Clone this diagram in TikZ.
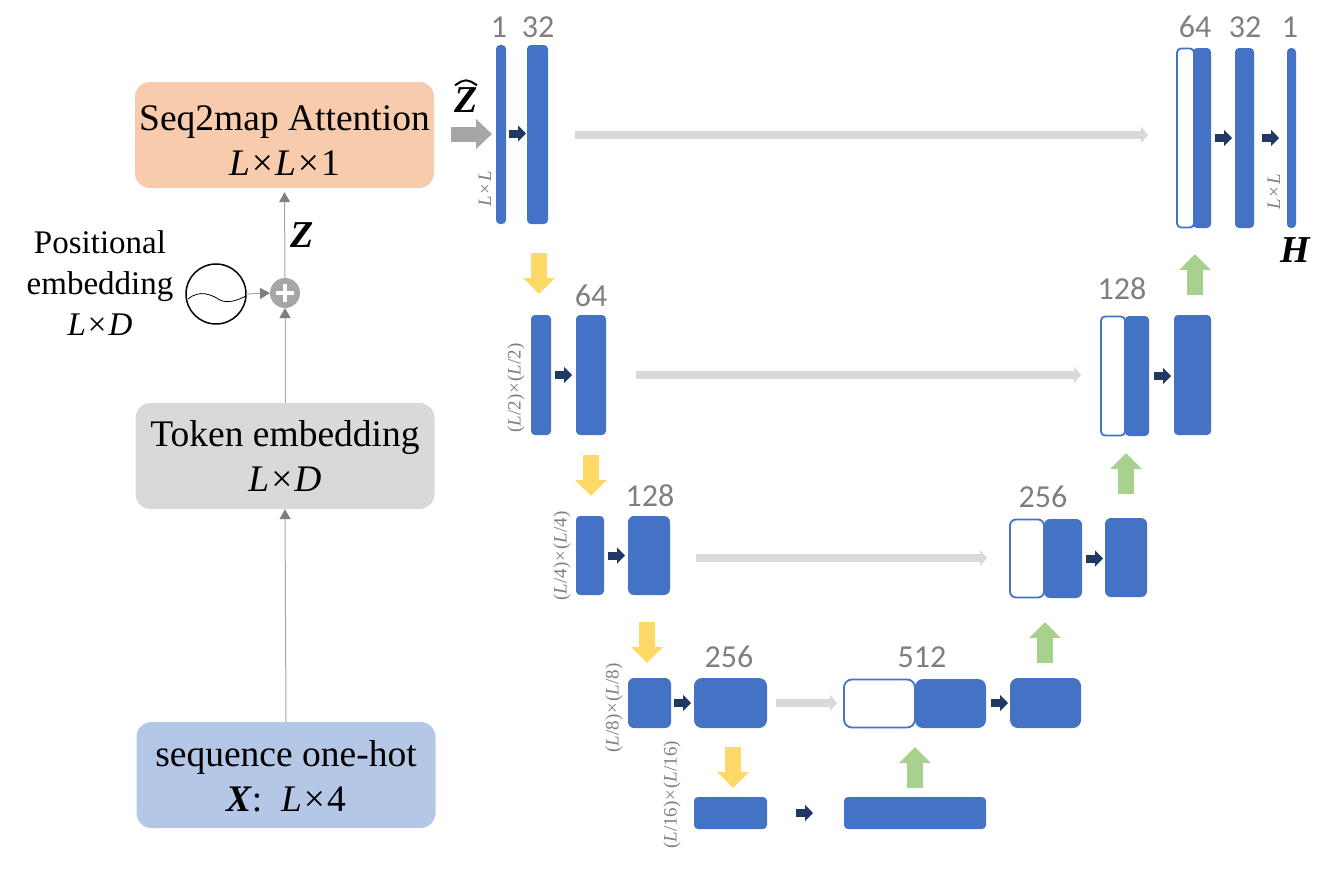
\documentclass[tikz,border=0pt]{standalone}
\usepackage{fontspec}
\setmainfont{Liberation Serif}
\newfontfamily\numfont{Carlito}
\usetikzlibrary{arrows.meta}
\definecolor{blockblue}{HTML}{4472C4}
\definecolor{darkblue}{HTML}{1F3864}
\definecolor{tipyellow}{HTML}{FFD966}
\definecolor{tipgreen}{HTML}{A9D18E}
\definecolor{skipgray}{HTML}{D9D9D9}
\definecolor{midgray}{HTML}{A6A6A6}
\definecolor{labelgray}{HTML}{7F7F7F}
\definecolor{attnfill}{HTML}{F8CBAD}
\definecolor{seqfill}{HTML}{B4C7E7}
\newcommand{\bi}[1]{\textbf{\textit{#1}}}
\newcommand{\by}{\kern2pt×\kern2pt}
\newcommand{\sby}{\kern1pt×\kern1pt}
\tikzset{
    inputbox/.style={rounded corners=15pt, minimum width=299pt, minimum height=106pt, inner sep=0pt, align=center,
        font=\fontsize{37.5}{45}\selectfont},
    filled/.style={fill=blockblue, rounded corners=4pt, inner sep=0pt, outer sep=0pt},
    hollow/.style={draw=blockblue, fill=white, line width=1.8pt, rounded corners=4pt, inner sep=0pt, outer sep=0pt},
    channels/.style={text=labelgray, inner sep=0pt, font=\numfont\fontsize{32}{32}\selectfont},
    sizelabel/.style={text=labelgray, inner sep=0pt, rotate=90, font=\fontsize{19}{19}\selectfont},
    symbol/.style={inner sep=0pt, font=\bfseries\itshape\fontsize{38}{38}\selectfont},
    thin arrow/.style={draw=midgray, line width=1pt, -{Triangle[length=10pt,width=11pt,color=labelgray]}},
    conv arrow/.style={draw=darkblue, line width=8pt, -{Triangle[length=8pt,width=16pt]}},
    skip arrow/.style={draw=skipgray, line width=8pt, -{Triangle[length=7pt,width=16pt]}},
    down arrow/.style={draw=tipyellow, line width=16pt, -{Triangle[length=16pt,width=31pt]}},
    up arrow/.style={draw=tipgreen, line width=16pt, -{Triangle[length=16pt,width=31pt]}},
    add node/.style={circle, fill=midgray, minimum size=30pt, inner sep=0pt, outer sep=0pt,
        path picture={
            \draw[white, line width=3.5pt] ([xshift=-9pt]path picture bounding box.center) -- ([xshift=9pt]path picture bounding box.center);
            \draw[white, line width=3.5pt] ([yshift=-9pt]path picture bounding box.center) -- ([yshift=9pt]path picture bounding box.center);
        }},
}
\begin{document}
\begin{tikzpicture}[x=1pt, y=-1pt]
    \useasboundingbox (0,0) rectangle (1325,868);
    % left column
    \node[inputbox, fill=attnfill] (attn) at (284.5,135) {\rule{0pt}{36pt}Seq2map Attention\\\textit{L}\by\textit{L}\by 1};
    \node[inputbox, fill=skipgray] (token) at (285,456) {Token embedding\\\textit{L}\by\textit{D}};
    \node[inputbox, fill=seqfill] (seq) at (286,775) {\rule{0pt}{28pt}sequence one-hot\\\bi{X}:\ \ \textit{L}\by 4};
    \node[add node] (add) at (285,293) {};
    \node[circle, draw=black, line width=1.5pt, minimum size=60pt, inner sep=0pt, outer sep=0pt] (wave) at (216,294) {};
    \node[inner sep=0pt, align=center, font=\fontsize{33}{41}\selectfont] (pos) at (100,283) {Positional\\embedding\\\textit{L}\by\textit{D}};
    \node[symbol] (zlabel) at (302,235) {Z};
    \node[symbol] (zhat) at (466,100) {Z};
    \node[symbol] (hlabel) at (1295,250) {H};
    \draw[line width=2pt] ([xshift=-11pt,yshift=2pt]zhat.north) .. controls ([xshift=-5pt,yshift=6pt]zhat.north) .. ([yshift=7pt]zhat.north)
        .. controls ([xshift=5pt,yshift=6pt]zhat.north) .. ([xshift=11pt,yshift=2pt]zhat.north);
    \draw[thin arrow] (seq.north) -- (token.south);
    \draw[thin arrow] (token.north) -- (add.south);
    \draw[thin arrow, shorten >=4pt] (add.north) -- (attn.south);
    \draw[thin arrow] (wave.east) -- (add.west);
    \draw[line width=0.8pt] (188,299) .. controls (200,289) and (212,295) .. (220,300) .. controls (228,304) and (238,300) .. (246,296);
    \coordinate (zs) at (451,134);
    \draw[draw=midgray, line width=15pt, -{Triangle[length=16pt,width=29pt]}] (zs) -- (492,134);
    % level 1
    \node[filled, minimum width=10pt, minimum height=179pt] (d1a) at (501,134.5) {};
    \node[filled, minimum width=21pt, minimum height=179pt] (d1b) at (537.5,134.5) {};
    \node[hollow, minimum width=17pt, minimum height=179pt] (u1o) at (1185.5,138) {};
    \node[filled, minimum width=18pt, minimum height=180pt] (u1f) at (1202,138) {};
    \node[filled, minimum width=19pt, minimum height=180pt] (u1b) at (1244.5,138) {};
    \node[filled, minimum width=9pt, minimum height=180pt] (u1c) at (1291.5,138) {};
    % level 2
    \node[filled, minimum width=20pt, minimum height=120pt] (d2a) at (541,375) {};
    \node[filled, minimum width=30pt, minimum height=120pt] (d2b) at (591,375) {};
    \node[hollow, minimum width=24pt, minimum height=119pt] (u2o) at (1113,376) {};
    \node[filled, minimum width=24pt, minimum height=120pt] (u2f) at (1137,376) {};
    \node[filled, minimum width=37pt, minimum height=120pt] (u2b) at (1192.5,375) {};
    % level 3
    \node[filled, minimum width=28pt, minimum height=79pt] (d3a) at (590,555.5) {};
    \node[filled, minimum width=42pt, minimum height=79pt, rounded corners=6pt] (d3b) at (649,555.5) {};
    \node[hollow, minimum width=34pt, minimum height=78pt, rounded corners=6pt] (u3o) at (1027,558.5) {};
    \node[filled, minimum width=38pt, minimum height=79pt, rounded corners=6pt] (u3f) at (1063,558.5) {};
    \node[filled, minimum width=42pt, minimum height=79pt, rounded corners=6pt] (u3b) at (1126,557.5) {};
    % level 4
    \node[filled, minimum width=43pt, minimum height=50pt, rounded corners=6pt] (d4a) at (649.5,703) {};
    \node[filled, minimum width=73pt, minimum height=50pt, rounded corners=8pt] (d4b) at (730.5,703) {};
    \node[hollow, minimum width=71pt, minimum height=48pt, rounded corners=8pt] (u4o) at (879.5,703.5) {};
    \node[filled, minimum width=71pt, minimum height=49pt, rounded corners=8pt] (u4f) at (950.5,703.5) {};
    \node[filled, minimum width=71pt, minimum height=50pt, rounded corners=8pt] (u4b) at (1045.5,703) {};
    % level 5
    \node[filled, minimum width=73pt, minimum height=32pt] (d5a) at (730.5,813) {};
    \node[filled, minimum width=142pt, minimum height=32pt] (d5b) at (915,813) {};
    % channel counts
    \node[channels] (n1) at (499,27) {1};
    \node[channels] (n32) at (538,27) {32};
    \node[channels] (n64r) at (1195,27) {64};
    \node[channels] (n32r) at (1245,27) {32};
    \node[channels] (n1r) at (1290,27) {1};
    \node[channels] (n64) at (591,296) {64};
    \node[channels] (n128r) at (1122,289) {128};
    \node[channels] (n128) at (650,496) {128};
    \node[channels] (n256r) at (1043,497) {256};
    \node[channels] (n256) at (729,657) {256};
    \node[channels] (n512) at (922,657) {512};
    % sizes
    \node[sizelabel] (s1) at (485,189) {\textit{L}\by\textit{L}};
    \node[sizelabel] (s1r) at (1274,192) {\textit{L}\by\textit{L}};
    \node[sizelabel] (s2) at (516,388) {(\textit{L}/2)\sby(\textit{L}/2)};
    \node[sizelabel] (s3) at (562,556) {(\textit{L}/4)\sby(\textit{L}/4)};
    \node[sizelabel] (s4) at (614,708) {(\textit{L}/8)\sby(\textit{L}/8)};
    \node[sizelabel] (s5) at (672,795) {(\textit{L}/16)\sby(\textit{L}/16)};
    % convolutions
    \draw[conv arrow, shorten <=3pt, shorten >=1pt] ([yshift=1pt]d1a.east) -- ([yshift=1pt]d1b.west);
    \draw[conv arrow, shorten <=4pt, shorten >=4pt] (d2a.east) -- (d2b.west);
    \draw[conv arrow, shorten <=4pt, shorten >=3pt] (d3a.east) -- (d3b.west);
    \draw[conv arrow, shorten <=3pt, shorten >=3pt] (d4a.east) -- (d4b.west);
    \draw[conv arrow, shorten <=29pt, shorten >=31pt] (d5a.east) -- (d5b.west);
    \draw[conv arrow, shorten <=5pt, shorten >=2pt] (u4f.east |- u4b.west) -- (u4b.west);
    \draw[conv arrow, shorten <=4pt, shorten >=2pt] (u3f.east) -- (u3f.east -| u3b.west);
    \draw[conv arrow, shorten <=5pt, shorten >=3pt] (u2f.east) -- (u2f.east -| u2b.west);
    \draw[conv arrow, shorten <=4pt, shorten >=3pt] (u1f.east) -- (u1b.west);
    \draw[conv arrow, shorten <=8pt, shorten >=8pt] (u1b.east) -- (u1c.west);
    % skip connections
    \coordinate (sk1a) at (575,135);
    \coordinate (sk1b) at (1148,135);
    \coordinate (sk2a) at (636,375);
    \coordinate (sk2b) at (1081,375);
    \coordinate (sk3a) at (696,558);
    \coordinate (sk3b) at (987,558);
    \coordinate (sk4a) at (776,703);
    \coordinate (sk4b) at (837,703);
    \draw[skip arrow] (sk1a) -- (sk1b);
    \draw[skip arrow] (sk2a) -- (sk2b);
    \draw[skip arrow] (sk3a) -- (sk3b);
    \draw[skip arrow] (sk4a) -- (sk4b);
    % down sampling
    \coordinate (dn1a) at (539,253);
    \coordinate (dn1b) at (539,294);
    \coordinate (dn2a) at (591,455);
    \coordinate (dn2b) at (591,496);
    \coordinate (dn3a) at (647,622);
    \coordinate (dn3b) at (647,663);
    \coordinate (dn4a) at (733,747);
    \coordinate (dn4b) at (733,788);
    \draw[down arrow] (dn1a) -- (dn1b);
    \draw[down arrow] (dn2a) -- (dn2b);
    \draw[down arrow] (dn3a) -- (dn3b);
    \draw[down arrow] (dn4a) -- (dn4b);
    % up sampling
    \coordinate (up1a) at (915,788);
    \coordinate (up1b) at (915,747);
    \coordinate (up2a) at (1045,663);
    \coordinate (up2b) at (1045,622);
    \coordinate (up3a) at (1126,494);
    \coordinate (up3b) at (1126,453);
    \coordinate (up4a) at (1195,295);
    \coordinate (up4b) at (1195,254);
    \draw[up arrow] (up1a) -- (up1b);
    \draw[up arrow] (up2a) -- (up2b);
    \draw[up arrow] (up3a) -- (up3b);
    \draw[up arrow] (up4a) -- (up4b);
\end{tikzpicture}
\end{document}
